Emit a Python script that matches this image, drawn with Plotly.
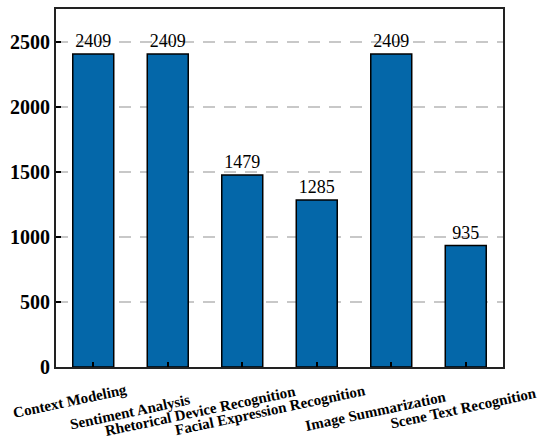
import plotly.graph_objects as go

categories = ["Context Modeling", "Sentiment Analysis", "Rhetorical Device Recognition",
              "Facial Expression Recognition", "Image Summarization", "Scene Text Recognition"]
counts = [2409, 2409, 1479, 1285, 2409, 935]
y_ticks = [0, 500, 1000, 1500, 2000, 2500]

# hand placement of the tilted category labels (pixel nudges from the tick / axis)
label_dx = [-23, -38, -42, -46, -15, -2]
label_dy = [34, 45, 44, 43, 44, 41]

serif = "Liberation Serif, Times New Roman, serif"
xs = list(range(len(categories)))

fig = go.Figure()
fig.add_trace(go.Bar(
    x=xs, y=counts, width=0.55,
    marker=dict(color="#0467a9", line=dict(color="black", width=1.5)),
    text=[str(v) for v in counts], textposition="outside",
    textfont=dict(family=serif, size=18, color="black"),
    cliponaxis=False,
))

for i, name in enumerate(categories):
    fig.add_annotation(
        x=xs[i], y=0, xref="x", yref="paper", text="<b>" + name + "</b>",
        textangle=-12, showarrow=False, xanchor="center", yanchor="middle",
        xshift=label_dx[i], yshift=-label_dy[i],
        font=dict(family=serif, size=15, color="black"),
    )

fig.update_layout(
    width=540, height=438,
    margin=dict(l=56, r=37, t=7, b=71),
    plot_bgcolor="white", paper_bgcolor="white",
    showlegend=False,
)
fig.update_xaxes(
    range=[-0.5, 5.5], tickmode="array", tickvals=xs, showticklabels=False,
    ticks="inside", ticklen=5, tickwidth=1.5, tickcolor="black",
    showline=True, linecolor="#222", linewidth=2, mirror=True, showgrid=False,
)
fig.update_yaxes(
    range=[0, 2756], tickmode="array", tickvals=y_ticks,
    ticks="inside", ticklen=5, tickwidth=1.5, tickcolor="black",
    showline=True, linecolor="#222", linewidth=2, mirror=True,
    showgrid=True, gridcolor="#c8c8c8", gridwidth=1.5, griddash="12px,9px",
    zeroline=False,
    tickfont=dict(family=serif, size=20, color="black", weight="bold"),
)

fig.write_html("out.html", config={"displayModeBar": False},
               post_script="document.body.style.margin='0';")
